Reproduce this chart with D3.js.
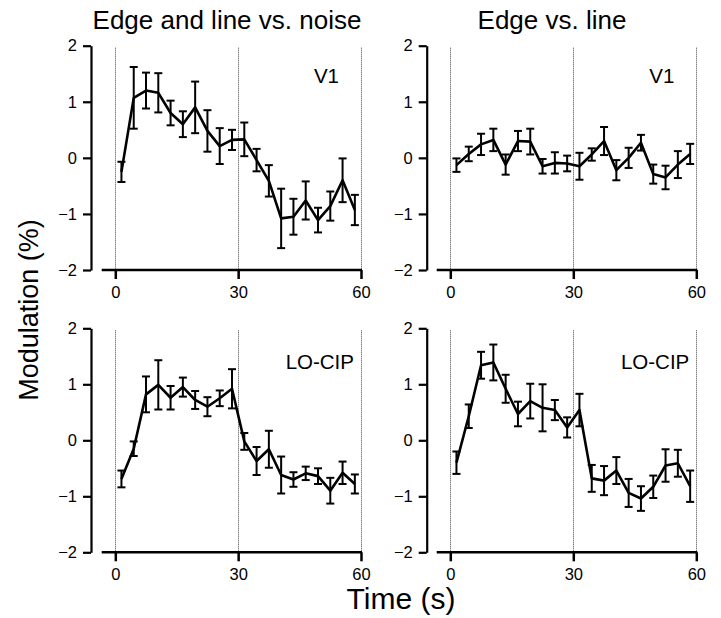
<!DOCTYPE html>
<html>
<head>
<meta charset="utf-8">
<script src="https://cdn.jsdelivr.net/npm/d3@7"></script>
<style>
  body { margin: 0; background: #fff; }
  svg { display: block; }
  text { font-family: "Liberation Sans", Arial, Helvetica, sans-serif; fill: #000; }
</style>
</head>
<body>
<div id="chart"></div>
<script>
// time bins (s)
var times = [1.5, 4.5, 7.5, 10.5, 13.5, 16.5, 19.5, 22.5, 25.5, 28.5,
             31.5, 34.5, 37.5, 40.5, 43.5, 46.5, 49.5, 52.5, 55.5, 58.5];

var xTicks = [0, 30, 60];
var yTicks = [-2, -1, 0, 1, 2];
var columnTitles = ['Edge and line vs. noise', 'Edge vs. line'];
var rowLabels = ['V1', 'LO-CIP'];

// V1, edge and line vs. noise
var v1NoiseMean = [-0.25, 1.07, 1.2, 1.16, 0.8, 0.6, 0.9, 0.48, 0.21, 0.32,
                   0.33, -0.04, -0.41, -1.08, -1.05, -0.76, -1.11, -0.86, -0.4, -0.93];
var v1NoiseErr  = [0.18, 0.55, 0.32, 0.35, 0.22, 0.23, 0.46, 0.37, 0.32, 0.18,
                   0.3, 0.2, 0.28, 0.53, 0.32, 0.34, 0.22, 0.26, 0.39, 0.27];

// V1, edge vs. line
var v1LineMean = [-0.13, 0.07, 0.24, 0.32, -0.12, 0.3, 0.29, -0.15, -0.09, -0.1,
                  -0.15, 0.06, 0.3, -0.22, 0.0, 0.27, -0.29, -0.35, -0.12, 0.07];
var v1LineErr  = [0.12, 0.13, 0.19, 0.2, 0.18, 0.18, 0.23, 0.13, 0.19, 0.14,
                  0.24, 0.11, 0.25, 0.18, 0.18, 0.14, 0.17, 0.21, 0.24, 0.18];

// LO-CIP, edge and line vs. noise
var loNoiseMean = [-0.69, -0.15, 0.82, 0.99, 0.76, 0.95, 0.72, 0.6, 0.75, 0.92,
                   -0.02, -0.37, -0.16, -0.62, -0.7, -0.59, -0.64, -0.9, -0.58, -0.78];
var loNoiseErr  = [0.15, 0.13, 0.32, 0.44, 0.21, 0.17, 0.16, 0.17, 0.14, 0.35,
                   0.15, 0.25, 0.33, 0.33, 0.13, 0.12, 0.14, 0.23, 0.2, 0.17];

// LO-CIP, edge vs. line
var loLineMean = [-0.4, 0.43, 1.34, 1.39, 0.92, 0.47, 0.7, 0.58, 0.54, 0.23,
                  0.54, -0.68, -0.72, -0.54, -0.94, -1.04, -0.83, -0.45, -0.41, -0.82];
var loLineErr  = [0.2, 0.21, 0.24, 0.32, 0.25, 0.22, 0.31, 0.42, 0.18, 0.18,
                  0.29, 0.24, 0.26, 0.24, 0.25, 0.22, 0.2, 0.29, 0.24, 0.28];

var W = 721, H = 618;
var svg = d3.select('#chart').append('svg')
  .attr('width', W)
  .attr('height', H);

// panel frames: axis x, x(0), x(60) / y(2), y(-2)
var cols = [{ax: 91, x0: 115.3, x1: 361}, {ax: 426.7, x0: 450.3, x1: 696.3}];
var rows = [{y0: 45.7, y1: 270}, {y0: 328.3, y1: 552.3}];

var panels = [
  {row: 0, col: 0, mean: v1NoiseMean, err: v1NoiseErr},
  {row: 0, col: 1, mean: v1LineMean, err: v1LineErr},
  {row: 1, col: 0, mean: loNoiseMean, err: loNoiseErr},
  {row: 1, col: 1, mean: loLineMean, err: loLineErr}
];

panels.forEach(function(p){
  var c = cols[p.col], r = rows[p.row];
  var x = d3.scaleLinear().domain([0, 60]).range([c.x0, c.x1]);
  var y = d3.scaleLinear().domain([-2, 2]).range([r.y1, r.y0]);
  var g = svg.append('g');

  // dotted guides
  g.selectAll('.guide')
    .data(xTicks)
    .enter()
    .append('line')
    .attr('x1', (d) =>{return Math.round(x(d)) + 0.5})
    .attr('x2', (d) =>{return Math.round(x(d)) + 0.5})
    .attr('y1', y(2) + 2)
    .attr('y2', y(-2))
    .attr('stroke', '#444')
    .attr('stroke-width', 1)
    .attr('stroke-dasharray', '1,1');

  // y axis
  var yAxis = g.append('g')
    .attr('transform', 'translate(' + c.ax + ',0)')
    .call(d3.axisLeft(y).tickValues(yTicks).tickSize(8).tickSizeOuter(0).tickPadding(6)
      .tickFormat((d) =>{return d < 0 ? '\u2212' + Math.abs(d) : d}));
  yAxis.select('.domain').attr('stroke-width', 2.2);
  yAxis.selectAll('.tick line').attr('stroke-width', 2.2);
  yAxis.selectAll('text').attr('font-size', 16.5).style('font-family', '"Liberation Sans", Arial, sans-serif');

  // x axis
  var xAxis = g.append('g')
    .attr('transform', 'translate(0,' + y(-2) + ')')
    .call(d3.axisBottom(x).tickValues(xTicks).tickSize(9).tickPadding(7));
  xAxis.select('.domain').remove();
  xAxis.append('line')
    .attr('x1', c.x0 - 13.6)
    .attr('x2', c.x1 + 1)
    .attr('stroke', '#000')
    .attr('stroke-width', 2.5);
  xAxis.selectAll('.tick line').attr('stroke-width', 2.5);
  xAxis.selectAll('text').attr('font-size', 16.5).style('font-family', '"Liberation Sans", Arial, sans-serif');

  var pts = times.map(function(t, i){ return {t: t, m: p.mean[i], e: p.err[i]}; });

  // error bars
  var eb = g.selectAll('.eb')
    .data(pts)
    .enter()
    .append('g')
    .attr('stroke', '#000')
    .attr('stroke-width', 2);
  eb.append('line')
    .attr('x1', (d) =>{return x(d.t)}).attr('x2', (d) =>{return x(d.t)})
    .attr('y1', (d) =>{return y(d.m + d.e)}).attr('y2', (d) =>{return y(d.m - d.e)});
  eb.append('line')
    .attr('x1', (d) =>{return x(d.t) - 4}).attr('x2', (d) =>{return x(d.t) + 4})
    .attr('y1', (d) =>{return y(d.m + d.e)}).attr('y2', (d) =>{return y(d.m + d.e)});
  eb.append('line')
    .attr('x1', (d) =>{return x(d.t) - 4}).attr('x2', (d) =>{return x(d.t) + 4})
    .attr('y1', (d) =>{return y(d.m - d.e)}).attr('y2', (d) =>{return y(d.m - d.e)});

  // mean line
  g.append('path')
    .datum(pts)
    .attr('fill', 'none')
    .attr('stroke', '#000')
    .attr('stroke-width', 2.6)
    .attr('stroke-linejoin', 'round')
    .attr('d', d3.line().x((d) =>{return x(d.t)}).y((d) =>{return y(d.m)}));

  // area label
  g.append('text')
    .attr('x', p.row === 0 ? c.x1 - 22 : c.x1 - 7)
    .attr('y', p.row === 0 ? y(2) + 37.6 : y(2) + 41)
    .attr('text-anchor', 'end')
    .attr('font-size', 20.5)
    .text(rowLabels[p.row]);
});

// column titles
svg.selectAll('.title')
  .data(columnTitles)
  .enter()
  .append('text')
  .attr('x', (d, i) =>{return i ? 552 : 227})
  .attr('y', 29)
  .attr('text-anchor', 'middle')
  .attr('font-size', 26)
  .text((d) =>{return d});

// axis titles
svg.append('text')
  .attr('transform', 'translate(38,310) rotate(-90)')
  .attr('text-anchor', 'middle')
  .attr('font-size', 27)
  .text('Modulation (%)');

svg.append('text')
  .attr('x', 401)
  .attr('y', 609)
  .attr('text-anchor', 'middle')
  .attr('font-size', 30)
  .text('Time (s)');
</script>
</body>
</html>
